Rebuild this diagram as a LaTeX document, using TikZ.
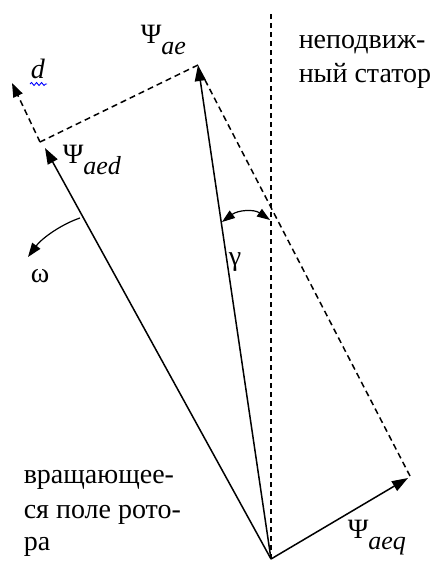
\documentclass[tikz,border=0pt]{standalone}
\usepackage{fontspec}
\setmainfont{Liberation Serif}
\newfontfamily\lserif{Liberation Serif}
\usetikzlibrary{arrows.meta,decorations.pathmorphing}
\begin{document}
\begin{tikzpicture}[x=1pt,y=-1pt, line width=1.5pt,
  vec/.style={-{Triangle[length=16pt,width=11pt]}},
  dsh/.style={dash pattern=on 6pt off 4pt},
  vdsh/.style={dash pattern=on 5pt off 4pt},
  smallarr/.style={line width=1.2pt},
  lbl/.style={inner sep=0pt, anchor=base west, font=\lserif\fontsize{28}{34}\selectfont},
]
\useasboundingbox (0,0) rectangle (435,562);
\newcommand{\psisub}[1]{Ψ\raisebox{-11pt}{\fontsize{26}{30}\selectfont\itshape #1}}
% points
\coordinate (O) at (271,559);
\coordinate (A) at (198,65);
\coordinate (D) at (45,148);
\coordinate (Q) at (408,478);
\coordinate (C) at (40,142);
\coordinate (dtip) at (12,83);
\coordinate (vtop) at (271,12);
\coordinate (A2) at (205,80);
\coordinate (Q2) at (410,476);
\coordinate (g1) at (222,222);
\coordinate (g2) at (270,220);
\coordinate (w1) at (80,218);
\coordinate (w2) at (28,257);
% vectors
\draw[vec] (O) -- (A);
\draw[vec] (O) -- (D);
\draw[vec] (O) -- (Q);
% dashed construction lines
\draw[dsh] (A) -- (C);
\draw[dsh, -{Triangle[length=14pt,width=10pt]}] (C) -- (dtip);
\draw[dsh] (A2) -- (Q2);
\draw[vdsh] (O) -- (vtop);
% angle gamma
\draw[smallarr, {Triangle[length=13pt,width=9pt]}-{Triangle[length=13pt,width=9pt]}]
  (g1) .. controls (238,210) and (254,209) .. (g2);
% omega arrow
\draw[smallarr, -{Triangle[length=14pt,width=10pt]}]
  (w1) .. controls (62,224) and (42,238) .. (w2);
% labels
\node[lbl] (lae) at (140,43) {\psisub{ae}};
\node[lbl] (laed) at (62,163) {\psisub{aed}};
\node[lbl] (laeq) at (347,538) {\psisub{aeq}};
\node[lbl] (ld) at (30,78) {\itshape d};
\draw[blue, line width=0.9pt, decorate, decoration={snake, amplitude=1.5pt, segment length=5pt}]
  (30,84) -- (47,84);
\node[lbl] (lw) at (30,282) {ω};
\node[lbl] (lg) at (228,265) {γ};
\node[lbl] (st1) at (298,48) {неподвиж-};
\node[lbl] (st2) at (298,82) {ный статор};
\node[lbl] (r1) at (23,483) {вращающее-};
\node[lbl] (r2) at (23,518) {ся поле рото-};
\node[lbl] (r3) at (23,550) {ра};
\end{tikzpicture}
\end{document}
